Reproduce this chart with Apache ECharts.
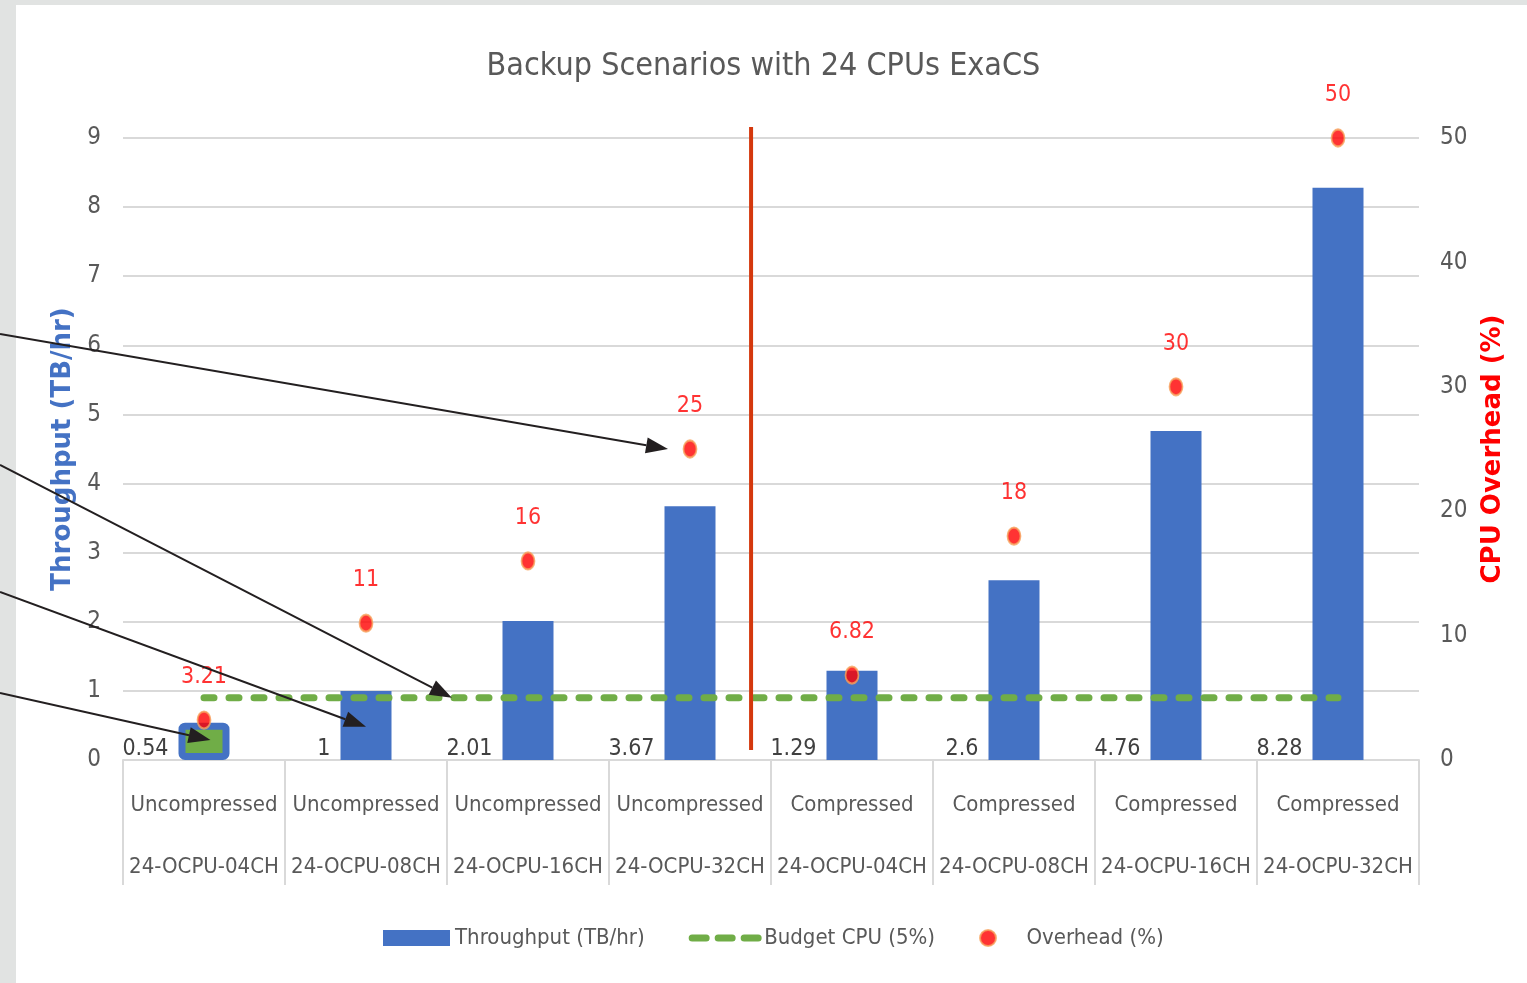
<!DOCTYPE html>
<html>
<head>
<meta charset="utf-8">
<script src="https://cdn.jsdelivr.net/npm/echarts@6/dist/echarts.min.js"></script>
<style>
html,body{margin:0;padding:0;background:#fff;}
#main{width:1527px;height:983px;}
</style>
</head>
<body>
<div id="main"></div>
<script>
const categoriesTop = ['Uncompressed','Uncompressed','Uncompressed','Uncompressed','Compressed','Compressed','Compressed','Compressed'];
const categoriesBottom = ['24-OCPU-04CH','24-OCPU-08CH','24-OCPU-16CH','24-OCPU-32CH','24-OCPU-04CH','24-OCPU-08CH','24-OCPU-16CH','24-OCPU-32CH'];
const throughput = [0.54, 1, 2.01, 3.67, 1.29, 2.6, 4.76, 8.28];
const budgetCpu = [5, 5, 5, 5, 5, 5, 5, 5];
const overhead = [3.21, 11, 16, 25, 6.82, 18, 30, 50];
const leftTicks = {min: 0, max: 9, interval: 1};
const rightTicks = {min: 0, max: 50, interval: 10};

const NARROW = '"Liberation Sans Narrow","Arial Narrow","DejaVu Sans Condensed",sans-serif';
const GRAY = '#595959';
const categories = categoriesTop.map((t, i) => t + '\n' + categoriesBottom[i]);

const option = {
  animation: false,
  backgroundColor: '#fff',
  title: {
    text: 'Backup Scenarios with 24 CPUs ExaCS',
    left: 'center', top: 46,
    textStyle: {fontFamily: NARROW, fontSize: 32, fontWeight: 'normal', color: GRAY}
  },
  legend: {
    left: 378, top: 922,
    itemWidth: 67, itemHeight: 16, itemGap: 44,
    textStyle: {fontFamily: NARROW, fontSize: 22, color: GRAY},
    data: [
      {name: 'Throughput (TB/hr)', icon: 'rect'},
      {name: 'Budget CPU (5%)', itemStyle: {opacity: 0},
       lineStyle: {color: '#70AD47', width: 7, type: [14, 12], cap: 'round'}},
      {name: 'Overhead (%)', icon: 'circle'}
    ]
  },
  grid: {left: 123, right: 108, top: 138, bottom: 223, containLabel: false},
  xAxis: {
    type: 'category',
    data: categories,
    boundaryGap: true,
    axisLine: {lineStyle: {color: '#D9D9D9', width: 2}},
    axisTick: {show: true, length: 125, alignWithLabel: false, lineStyle: {color: '#D9D9D9', width: 2}},
    axisLabel: {fontFamily: NARROW, fontSize: 22, color: GRAY, lineHeight: 62, margin: 14, interval: 0}
  },
  yAxis: [
    {
      type: 'value', min: leftTicks.min, max: leftTicks.max, interval: leftTicks.interval,
      name: 'Throughput (TB/hr)', nameLocation: 'middle', nameGap: 45, nameRotate: 90,
      nameTextStyle: {fontFamily: '"DejaVu Sans",sans-serif', fontWeight: 'bold', fontSize: 26, color: '#4472C4'},
      axisLine: {show: false}, axisTick: {show: false},
      axisLabel: {fontFamily: NARROW, fontSize: 24, color: GRAY, margin: 22},
      splitLine: {lineStyle: {color: '#D9D9D9', width: 2}}
    },
    {
      type: 'value', min: rightTicks.min, max: rightTicks.max, interval: rightTicks.interval,
      position: 'right',
      name: 'CPU Overhead (%)', nameLocation: 'middle', nameGap: 61, nameRotate: 90,
      nameTextStyle: {fontFamily: '"DejaVu Sans",sans-serif', fontWeight: 'bold', fontSize: 26, color: '#FF0000'},
      axisLine: {show: false}, axisTick: {show: false},
      axisLabel: {fontFamily: NARROW, fontSize: 24, color: GRAY, margin: 21},
      splitLine: {show: false}
    }
  ],
  series: [
    {
      name: 'Throughput (TB/hr)', type: 'bar', yAxisIndex: 0, barWidth: 51,
      itemStyle: {color: '#4472C4'},
      data: throughput.map((v, i) => i === 0 ? {value: v, itemStyle: {color: '#70AD47', borderColor: '#4472C4', borderWidth: 7, borderRadius: 3}} : v),
      label: {
        show: true, position: 'insideBottomLeft', align: 'right', verticalAlign: 'bottom',
        offset: [-15, 6], fontFamily: NARROW, fontSize: 23, color: '#404040'
      },
      z: 2
    },
    {
      name: 'Budget CPU (5%)', type: 'line', yAxisIndex: 1, data: budgetCpu,
      symbol: 'none', showSymbol: false,
      itemStyle: {color: '#70AD47'},
      lineStyle: {color: '#70AD47', width: 7, type: [10, 15], cap: 'round'},
      z: 3
    },
    {
      name: 'Overhead (%)', type: 'scatter', yAxisIndex: 1, data: overhead,
      symbol: 'circle', symbolSize: [13, 17],
      itemStyle: {color: '#FF0000', borderColor: '#F7A35C', borderWidth: 2},
      label: {show: true, position: 'top', distance: 22, fontFamily: NARROW, fontSize: 23, color: '#FF0000'},
      z: 4
    }
  ]
};

const chart = echarts.init(document.getElementById('main'), null, {renderer: 'canvas'});
chart.setOption(option);

// Annotation helpers (positions derived from the chart's own scales)
function catPx(c) {
  const i0 = Math.floor(c), f = c - i0;
  const a = chart.convertToPixel({xAxisIndex: 0}, i0);
  const b = chart.convertToPixel({xAxisIndex: 0}, i0 + 1);
  return a + (b - a) * f;
}
function valPx(v, axis) { return chart.convertToPixel({yAxisIndex: axis}, v); }

// arrows: start y (page edge), target category position, value, axis, dx
const arrows = [
  {sy: 334, c: 3, v: 25, axis: 1, dx: -22},
  {sy: 465, c: 1.53, v: 5, axis: 1, dx: 0},
  {sy: 592, c: 1, v: 0.48, axis: 0, dx: 0},
  {sy: 693, c: 0.04, v: 0.29, axis: 0, dx: 0}
];
const graphics = [
  {type: 'rect', shape: {x: 0, y: 0, width: 1527, height: 5}, style: {fill: '#E1E3E2'}, z: -10},
  {type: 'rect', shape: {x: 0, y: 0, width: 16, height: 983}, style: {fill: '#E1E3E2'}, z: -10}
];
// red divider between uncompressed and compressed groups
const divX = catPx(3.377);
graphics.push({type: 'line', shape: {x1: divX, y1: valPx(9.16, 0), x2: divX, y2: valPx(0.145, 0)},
  style: {stroke: '#D4380D', lineWidth: 4}, z: 100});
arrows.forEach(a => {
  const tx = catPx(a.c) + a.dx, ty = valPx(a.v, a.axis);
  const sx = 0, sy = a.sy;
  const dx = tx - sx, dy = ty - sy, len = Math.hypot(dx, dy);
  const ux = dx / len, uy = dy / len;
  const L = 22, W = 8;
  const bx = tx - ux * L, by = ty - uy * L;
  graphics.push({type: 'line', shape: {x1: sx, y1: sy, x2: bx, y2: by}, style: {stroke: '#231F20', lineWidth: 2}, z: 100});
  graphics.push({type: 'polygon', shape: {points: [[tx, ty], [bx - uy * W, by + ux * W], [bx + uy * W, by - ux * W]]},
    style: {fill: '#231F20'}, z: 100});
});
chart.setOption({graphic: graphics});
</script>
</body>
</html>
